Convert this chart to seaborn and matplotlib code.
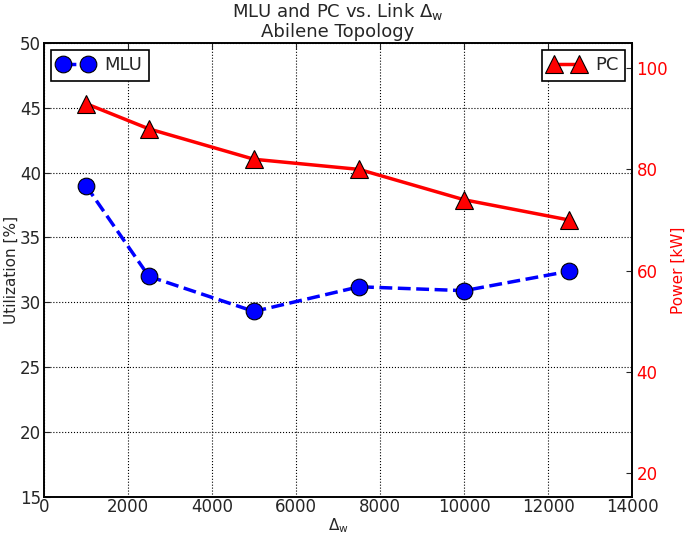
import matplotlib
matplotlib.use("Agg")
import matplotlib.pyplot as plt
import seaborn as sns
import pandas as pd

# -----------------------------
# Data
# -----------------------------
delta_w = [1000, 2500, 5000, 7500, 10000, 12500]
mlu = [39.0, 32.0, 29.3, 31.2, 30.9, 32.4]
power = [93.0, 88.0, 82.0, 80.0, 74.0, 70.0]

df = pd.DataFrame({"delta_w": delta_w, "mlu": mlu, "power": power})

sns.set_style("white")
plt.rcParams["font.family"] = ["DejaVu Sans"]
plt.rcParams["mathtext.fontset"] = "dejavusans"
plt.rcParams["xtick.direction"] = "in"
plt.rcParams["ytick.direction"] = "in"

fig, ax = plt.subplots(figsize=(6.85, 5.35), dpi=100)
fig.subplots_adjust(left=0.064, right=0.923, top=0.92, bottom=0.071)

# MLU on the left axis
sns.lineplot(data=df, x="delta_w", y="mlu", ax=ax, color="blue",
             linestyle="--", linewidth=2.5, marker="o", markersize=12,
             markeredgecolor="black", markeredgewidth=0.8, label="MLU")

ax.set_xlim(0, 14000)
ax.set_ylim(15, 50)
ax.set_xticks(range(0, 14001, 2000))
ax.set_yticks(range(15, 51, 5))
ax.grid(True, linestyle=":", color="black", linewidth=0.8)
ax.set_xlabel(r"$\Delta_\mathrm{w}$", fontsize=11, labelpad=0)
ax.set_ylabel("Utilization [%]", fontsize=11, labelpad=1)
ax.tick_params(axis="both", labelsize=12, length=4, top=True, pad=1)
ax.tick_params(axis="y", right=False, pad=2)
for s in ax.spines.values():
    s.set_color("black")
    s.set_linewidth(1.2)

ax.legend(loc="upper left", numpoints=2, fontsize=13, fancybox=False,
          edgecolor="black", framealpha=1, handlelength=2,
          borderpad=0.35, handletextpad=0.6, borderaxespad=0.4)
ax.get_legend().get_frame().set_linewidth(1.2)

# PC on the right axis
ax2 = ax.twinx()
sns.lineplot(data=df, x="delta_w", y="power", ax=ax2, color="red",
             linestyle="-", linewidth=2.5, marker="^", markersize=13,
             markeredgecolor="black", markeredgewidth=0.8, label="PC")
ax2.set_ylim(15.3, 105)
ax2.set_yticks(range(20, 101, 20))
ax2.set_ylabel("Power [kW]", color="red", fontsize=11, labelpad=2)
ax2.tick_params(axis="y", labelcolor="red", labelsize=12, length=4,
                direction="in", pad=3)
ax2.legend(loc="upper right", numpoints=2, fontsize=13, fancybox=False,
           edgecolor="black", framealpha=1, handlelength=2,
           borderpad=0.35, handletextpad=0.6, borderaxespad=0.4)
ax2.get_legend().get_frame().set_linewidth(1.2)
for s in ax2.spines.values():
    s.set_color("black")
    s.set_linewidth(1.2)

ax.set_title("MLU and PC vs. Link $\\Delta_\\mathrm{w}$\nAbilene Topology",
             fontsize=13, pad=4, linespacing=1.1)

plt.savefig("out.png", dpi=100)
plt.close()
